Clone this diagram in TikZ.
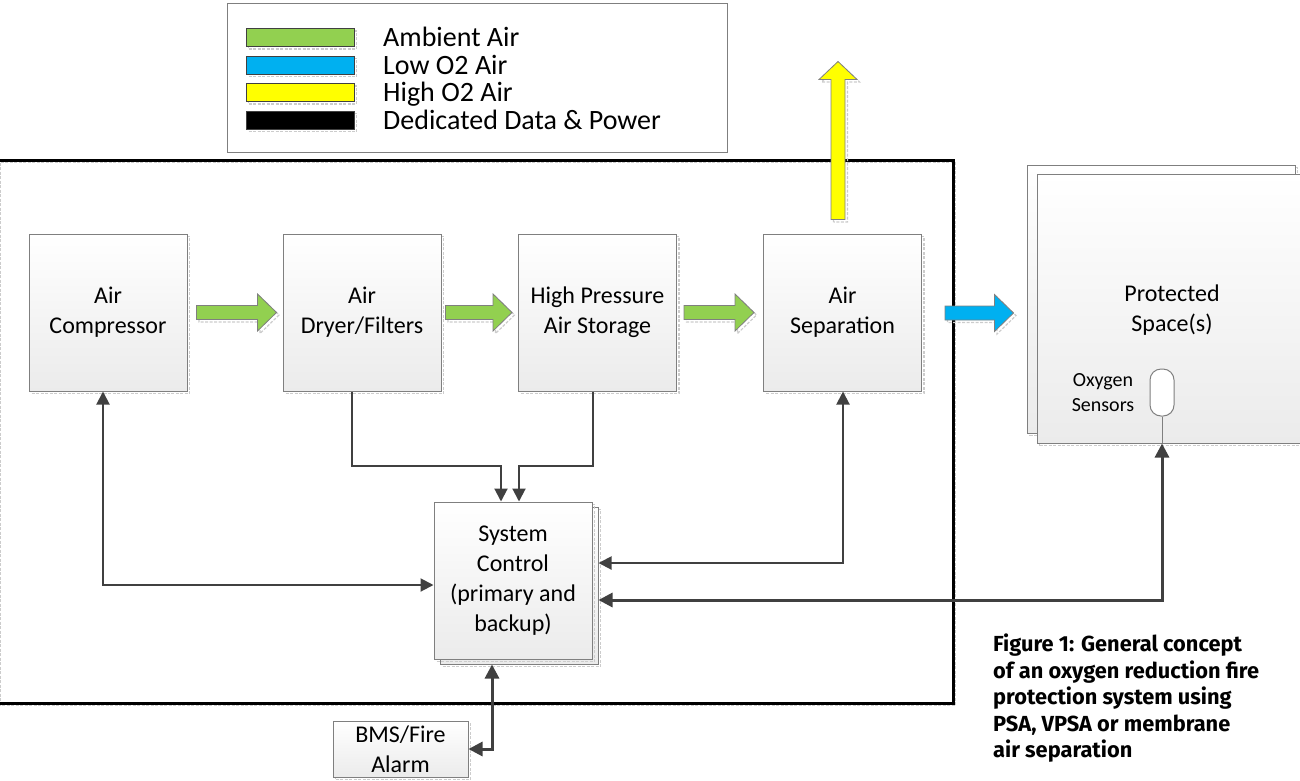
\documentclass[tikz,border=0pt]{standalone}
\usepackage{fontspec}
\setmainfont{Carlito}
\newfontfamily\capfont{Fira Sans}
\usetikzlibrary{arrows.meta,positioning,calc,shadows}
\definecolor{linegray}{HTML}{404040}
\definecolor{boxgray}{HTML}{7F7F7F}
\definecolor{boxfill}{HTML}{EBEBEB}
\definecolor{ambient}{HTML}{92D050}
\definecolor{lowox}{HTML}{00B0F0}
\definecolor{highox}{HTML}{FFFF00}

\tikzset{
  softshadow/.style={copy shadow={shadow xshift=2.5pt, shadow yshift=-2.5pt,
      draw=gray!40, fill=none, line width=1.2pt, dash pattern=on 3pt off 1.5pt}},
  block/.style={draw=boxgray, line width=1pt, top color=white, bottom color=boxfill,
      minimum width=158pt, minimum height=157pt, inner sep=0pt, align=center,
      font=\fontsize{24}{30}\selectfont, softshadow},
  swatch/.style={draw=linegray, line width=0.8pt, minimum width=108pt,
      minimum height=18pt, inner sep=0pt, softshadow},
  legtext/.style={font=\fontsize{28}{30}\selectfont, inner sep=0pt, anchor=base west},
  fatarrow/.style={draw=boxgray, line width=0.8pt, softshadow},
  conn/.style={draw=linegray, line width=2pt, -{Triangle[length=13pt,width=13pt]}},
  conn2/.style={conn, {Triangle[length=13pt,width=13pt]}-{Triangle[length=13pt,width=13pt]}},
  dataconn/.style={draw=linegray, line width=3pt,
      {Triangle[length=14pt,width=14pt]}-{Triangle[length=14pt,width=14pt]}}
}

% horizontal block arrow: start, tip, colour
\newcommand{\fatarrow}[3]{%
  \path[fatarrow, fill=#3] let \p1=(#1), \p2=(#2) in
    (\x1,\y1+7pt) -- (\x2-19pt,\y1+7pt) -- (\x2-19pt,\y1+18.5pt) -- (\x2,\y1)
    -- (\x2-19pt,\y1-18.5pt) -- (\x2-19pt,\y1-7pt) -- (\x1,\y1-7pt) -- cycle;}

\begin{document}
\begin{tikzpicture}[x=1pt,y=-1pt]
  \useasboundingbox (0,0) rectangle (1300,780);

  % system enclosure and legend
  \draw[line width=3pt, softshadow] (-2,160) rectangle (953,703);
  \draw[draw=boxgray, line width=1pt, fill=white] (227,3) rectangle (727,152);
  \foreach \col/\txt [count=\i] in {ambient/Ambient Air, lowox/Low O2 Air,
      highox/High O2 Air, black/Dedicated Data \& Power} {
    \pgfmathsetmacro{\ly}{37.5+27.5*(\i-1)}
    \node[swatch, fill=\col] (sw\i) at (300,\ly) {};
    \node[legtext] (lg\i) at (383,{\ly+9}) {\txt};
  }

  % process blocks
  \node[block] (comp) at (108,312.5) {Air\\Compressor};
  \node[block] (dryer) at (362,312.5) {Air\\Dryer/Filters};
  \node[block] (store) at (597.5,312.5) {High Pressure\\Air Storage};
  \node[block] (sep) at (842.5,312.5) {Air\\Separation};

  % exhaust of high O2 air
  \path[fatarrow, fill=highox] let \p1=([xshift=-4.5pt]sep.north) in
    (\x1-7pt,\y1+14pt) -- (\x1-7pt,\y1+154pt) -- (\x1-19pt,\y1+154pt) -- (\x1,\y1+172pt)
    -- (\x1+19pt,\y1+154pt) -- (\x1+7pt,\y1+154pt) -- (\x1+7pt,\y1+14pt) -- cycle;

  \node[block, minimum width=268pt, minimum height=268pt] (spaceback) at (1161,299) {};
  \node[block, minimum width=270pt, minimum height=269pt] (space) at (1172,308.5) {};
  \node[font=\fontsize{24}{30}\selectfont, align=center] (spacetxt) at (1172,310) {Protected\\Space(s)};
  \node[draw=boxgray, line width=1pt, fill=white, rounded corners=11pt, inner sep=0pt,
        minimum width=24pt, minimum height=47pt] (sensor) at (1162,392.5) {};
  \node[font=\fontsize{20}{25}\selectfont, align=center] (sensortxt) at (1103,392.5) {Oxygen\\Sensors};

  \node[block] (sysback) at (519,585.5) {};
  \node[block] (sysctl) at (513,580.5) {System\\Control\\(primary and\\backup)};
  \node[block, minimum width=135pt, minimum height=56pt] (bms) at (400.5,749) {BMS/Fire\\Alarm};

  % air flow
  \fatarrow{$(comp.east)+(9,0)$}{$(dryer.west)+(-6,0)$}{ambient}
  \fatarrow{$(dryer.east)+(4,0)$}{$(store.west)+(-6,0)$}{ambient}
  \fatarrow{$(store.east)+(7,0)$}{$(sep.west)+(-9,0)$}{ambient}
  \fatarrow{$(sep.east)+(23,0.5)$}{$(space.west)+(-23,0.5)$}{lowox}

  % control signals
  \draw[conn] ([xshift=-10pt]dryer.south) -- ++(0,74) -| ([xshift=-12pt]sysctl.north);
  \draw[conn] ([xshift=-4.5pt]store.south) -- ++(0,74) -| ([xshift=6pt]sysctl.north);
  \draw[conn2] ([xshift=-5pt]comp.south) |- ([yshift=-4.5pt]sysctl.west);
  \draw[conn2] ([xshift=0.5pt]sep.south) |- ([yshift=22.5pt]sysback.east);
  \draw[draw=boxgray, line width=1pt] (sensor.south) -- (sensor.south |- space.south);
  \draw[dataconn] ([yshift=-14.5pt]sysback.east) -| (sensor.south |- space.south);
  \draw[dataconn] ([xshift=-27pt]sysback.south) |- (bms.east);

  \node[font=\capfont\bfseries\fontsize{21.8}{26.5}\selectfont, align=left, anchor=north west,
        inner sep=0pt] (caption) at (993,634)
    {Figure 1: General concept\\of an oxygen reduction fire\\protection system using\\PSA, VPSA or membrane\\air separation};
\end{tikzpicture}
\end{document}
